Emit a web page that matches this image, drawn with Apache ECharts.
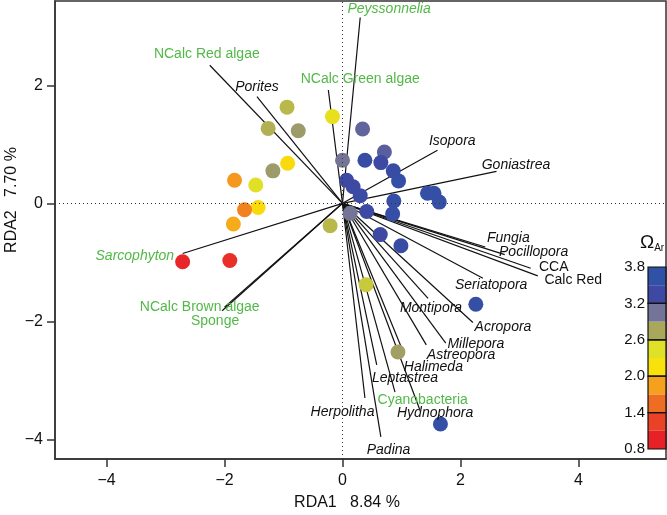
<!DOCTYPE html>
<html>
<head>
<meta charset="utf-8">
<script src="https://cdn.jsdelivr.net/npm/echarts@6/dist/echarts.min.js"></script>
<style>
  html, body { margin: 0; padding: 0; background: #fff; }
  #chart { width: 667px; height: 515px; }
</style>
</head>
<body>
<div id="chart"></div>
<script>
// site scores (RDA1, RDA2) and their aragonite saturation
const siteX = [-0.94, -1.26, -0.75, -0.17, 0.0, -0.93, -1.18, -1.83, -1.47, -1.43, -1.66, -1.85, -0.21, -2.71, -1.91,
  0.34, 0.38, 0.71, 0.65, 0.86, 0.95, 0.07, 0.18, 0.30, 1.44, 1.55, 1.64, 0.87, 0.85, 0.41, 0.13, 0.64, 0.99, 0.40, 2.26, 0.94, 1.66]
const siteY = [1.63, 1.27, 1.23, 1.47, 0.73, 0.68, 0.55, 0.39, 0.31, -0.07, -0.11, -0.35, -0.38, -0.99, -0.97,
  1.26, 0.73, 0.87, 0.69, 0.55, 0.38, 0.39, 0.28, 0.13, 0.17, 0.17, 0.02, 0.04, -0.18, -0.14, -0.17, -0.53, -0.72, -1.38, -1.71, -2.52, -3.74]
const siteOmega = [2.7, 2.75, 2.88, 2.35, 3.13, 2.1, 2.88, 1.75, 2.45, 2.1, 1.6, 1.85, 2.7, 0.85, 0.95,
  3.25, 3.6, 3.3, 3.5, 3.6, 3.7, 3.5, 3.5, 3.55, 3.7, 3.7, 3.7, 3.7, 3.7, 3.5, 3.13, 3.5, 3.6, 2.6, 3.7, 2.85, 3.7]

// species / group vectors
const vecNames = ['NCalc Red algae', 'Porites', 'NCalc Green algae', 'Peyssonnelia', 'Isopora', 'Goniastrea',
  'Fungia', 'Pocillopora', 'CCA', 'Calc Red', 'Seriatopora', 'Montipora', 'Acropora', 'Millepora', 'Astreopora',
  'Halimeda', 'Leptastrea', 'Cyanobacteria', 'Hydnophora', 'Herpolitha', 'Padina', 'Sarcophyton',
  'NCalc Brown algae', 'Sponge']
const vecX = [-2.25, -1.45, -0.24, 0.30, 1.61, 2.61, 2.42, 2.75, 3.19, 3.31, 2.38, 1.45, 2.21, 1.75, 1.42,
  1.0, 0.58, 0.89, 1.31, 0.38, 0.65, -2.71, -2.04, -2.0]
const vecY = [2.34, 1.81, 1.92, 3.15, 0.90, 0.54, -0.74, -0.87, -1.10, -1.23, -1.27, -1.61, -2.02, -2.37, -2.40,
  -2.45, -2.74, -3.20, -3.50, -3.30, -3.96, -0.85, -1.82, -1.76]

// where each vector's name sits (label centre, axis units)
const labX = [-2.30, -1.45, 0.30, 0.79, 1.86, 2.94, 2.81, 3.24, 3.58, 3.91, 2.52, 1.50, 2.72, 2.26, 2.01,
  1.54, 1.06, 1.36, 1.57, 0.0, 0.78, -3.52, -2.42, -2.16]
const labY = [2.53, 1.97, 2.11, 3.29, 1.05, 0.65, -0.59, -0.82, -1.08, -1.30, -1.38, -1.78, -2.10, -2.38, -2.57,
  -2.77, -2.96, -3.33, -3.55, -3.54, -4.18, -0.90, -1.76, -2.0]
const greenNames = ['NCalc Red algae', 'NCalc Green algae', 'Peyssonnelia', 'Cyanobacteria', 'Sarcophyton', 'NCalc Brown algae', 'Sponge']
const uprightNames = ['NCalc Red algae', 'NCalc Green algae', 'CCA', 'Calc Red', 'Cyanobacteria', 'NCalc Brown algae', 'Sponge']

const axisTicks = [-4, -2, 0, 2, 4]
const omegaEdges = [0.8, 1.1, 1.4, 1.7, 2.0, 2.3, 2.6, 2.9, 3.2, 3.5, 3.8]
const omegaTicks = [0.8, 1.4, 2.0, 2.6, 3.2, 3.8]
const omegaColors = ['#e82128', '#ea4227', '#ef6d22', '#f5a11d', '#f9e10b', '#dfe028', '#a9a75a', '#737497', '#3f48a3', '#2f52a6']

const ink = '#111'
const green = '#52b947'
const font = 'Liberation Sans, Arial, sans-serif'
const minus = v => (v < 0 ? '\u2212' + Math.abs(v) : String(v))

const chart = echarts.init(document.getElementById('chart'))

chart.setOption({
  animation: false,
  textStyle: { fontFamily: font },
  grid: [
    { left: 55, top: 1, width: 611, height: 458, show: true, borderColor: '#333', borderWidth: 1.5 },
    { left: 648, top: 267, width: 18, height: 182 },
  ],
  xAxis: [
    {
      type: 'value',
      min: -4.873,
      max: 5.483,
      axisLine: { show: true, onZero: false, lineStyle: { color: '#333', width: 1.5 } },
      axisTick: { show: true, length: 8, customValues: axisTicks, lineStyle: { color: '#333', width: 1.5 } },
      axisLabel: { customValues: axisTicks, formatter: minus, fontSize: 16, color: ink, margin: 14 },
      splitLine: { show: false },
    },
    { gridIndex: 1, type: 'value', min: 0, max: 1, show: false },
  ],
  yAxis: [
    {
      type: 'value',
      min: -4.334,
      max: 3.429,
      axisLine: { show: true, onZero: false, lineStyle: { color: '#333', width: 1.5 } },
      axisTick: { show: true, length: 8, customValues: axisTicks, lineStyle: { color: '#333', width: 1.5 } },
      axisLabel: { customValues: axisTicks, formatter: minus, fontSize: 16, color: ink, margin: 12 },
      splitLine: { show: false },
    },
    {
      gridIndex: 1,
      type: 'value',
      min: 0.8,
      max: 3.8,
      axisLine: { show: false },
      axisTick: { show: false },
      axisLabel: { customValues: omegaTicks, formatter: v => v.toFixed(1), fontSize: 15, color: ink, margin: 3 },
      splitLine: { show: false },
    },
  ],
  visualMap: {
    show: false,
    type: 'continuous',
    seriesIndex: 2,
    dimension: 2,
    min: 0.8,
    max: 3.8,
    inRange: { color: omegaColors },
  },
  graphic: [
    {
      type: 'text',
      x: 12,
      y: 200,
      rotation: Math.PI / 2,
      style: { text: 'RDA2   7.70 %', fontSize: 16, fontFamily: font, fill: ink, align: 'center', verticalAlign: 'middle' },
    },
    {
      type: 'text',
      x: 347,
      y: 503,
      style: { text: 'RDA1   8.84 %', fontSize: 16, fontFamily: font, fill: ink, align: 'center', verticalAlign: 'middle' },
    },
    {
      type: 'text',
      x: 640,
      y: 233,
      style: {
        text: '{o|\u03a9}{s|Ar}',
        rich: {
          o: { fontSize: 19, fontFamily: font, fill: ink, color: ink },
          s: { fontSize: 10, fontFamily: font, fill: ink, color: ink, padding: [10, 0, 0, 0] },
        },
      },
    },
  ],
  series: [
    {
      // zero reference lines
      type: 'line',
      data: [],
      silent: true,
      markLine: {
        silent: true,
        symbol: 'none',
        label: { show: false },
        lineStyle: { color: '#333', width: 1, type: [1, 3] },
        data: [{ xAxis: 0 }, { yAxis: 0 }],
      },
    },
    {
      type: 'lines',
      coordinateSystem: 'cartesian2d',
      silent: true,
      lineStyle: { color: '#111', width: 1.2, opacity: 1 },
      data: vecNames.map((n, i) => ({ name: n, coords: [[0, 0], [vecX[i], vecY[i]]] })),
      z: 3,
    },
    {
      type: 'scatter',
      symbolSize: 15,
      data: siteX.map((x, i) => [x, siteY[i], siteOmega[i]]),
      itemStyle: { opacity: 1 },
      z: 4,
    },
    {
      type: 'scatter',
      symbolSize: 0,
      silent: true,
      z: 5,
      itemStyle: { opacity: 1 },
      data: vecNames.map((n, i) => ({
        name: n,
        value: [labX[i], labY[i]],
        label: {
          color: greenNames.includes(n) ? green : ink,
          fontStyle: uprightNames.includes(n) ? 'normal' : 'italic',
        },
      })),
      label: {
        show: true,
        position: [0, 0],
        align: 'center',
        verticalAlign: 'middle',
        fontSize: 14,
        formatter: p => p.name,
      },
    },
    {
      // colour key
      type: 'custom',
      xAxisIndex: 1,
      yAxisIndex: 1,
      silent: true,
      data: omegaColors.map((c, i) => [omegaEdges[i], omegaEdges[i + 1], i]),
      renderItem: (params, api) => {
        const a = api.coord([0, api.value(1)])
        const b = api.coord([1, api.value(0)])
        return {
          type: 'rect',
          shape: { x: a[0], y: a[1], width: b[0] - a[0], height: b[1] - a[1] },
          style: { fill: omegaColors[api.value(2)] },
        }
      },
    },
    {
      type: 'custom',
      xAxisIndex: 1,
      yAxisIndex: 1,
      silent: true,
      z: 3,
      data: omegaTicks.slice(0, -1).map((t, i) => [t, omegaTicks[i + 1]]),
      renderItem: (params, api) => {
        const a = api.coord([0, api.value(1)])
        const b = api.coord([1, api.value(0)])
        return {
          type: 'rect',
          shape: { x: a[0], y: a[1], width: b[0] - a[0], height: b[1] - a[1] },
          style: { fill: 'none', stroke: '#111', lineWidth: 1.2 },
        }
      },
    },
  ],
})
</script>
</body>
</html>
